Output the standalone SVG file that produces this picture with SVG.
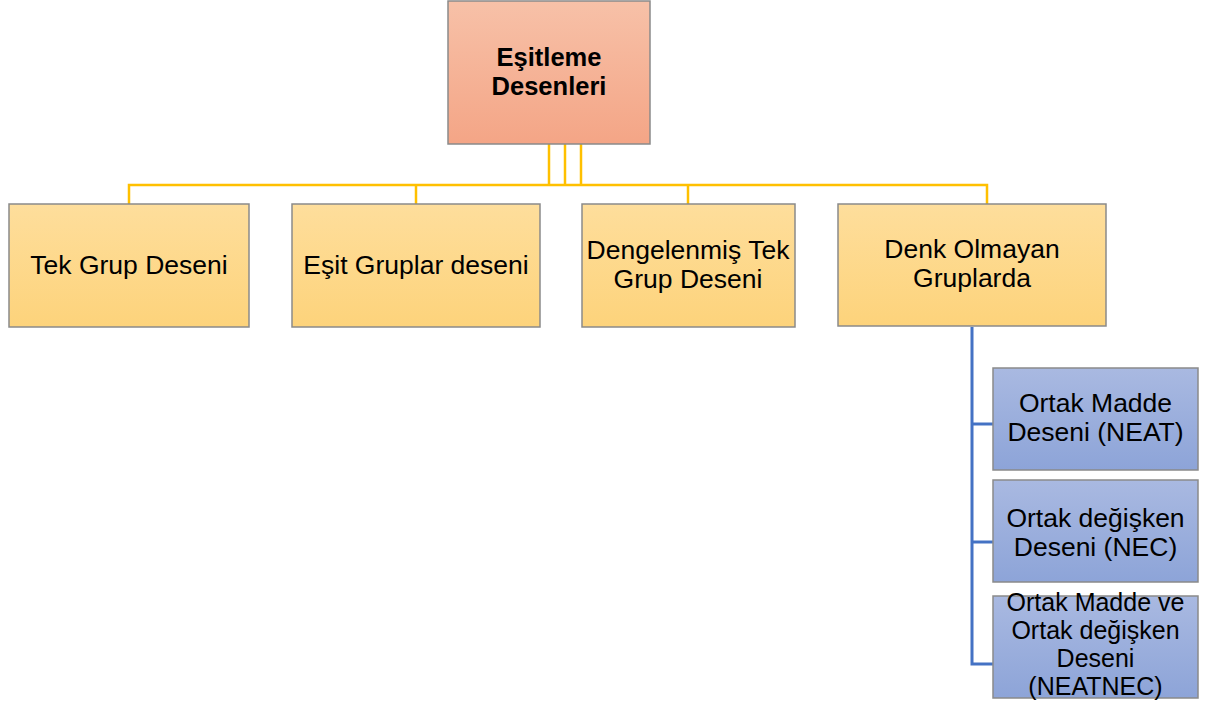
<svg xmlns="http://www.w3.org/2000/svg" width="1206" height="707" viewBox="0 0 1206 707">
<style>
  text { font-family: "Liberation Sans", Arial, sans-serif; font-size: 26.5px; fill: #000; text-anchor: middle; }
  .bold { font-weight: bold; font-size: 25.5px; }
  .tight { font-size: 25px; }
  .box { stroke: #8a8a8a; stroke-width: 1.5; }
  .yl { stroke: #FFC000; stroke-width: 2.5; fill: none; }
  .bl { stroke: #4472C4; stroke-width: 3; fill: none; }
</style>
<defs>
  <linearGradient id="gRoot" x1="0" y1="0" x2="0" y2="1">
    <stop offset="0" stop-color="#F7C1A8"/>
    <stop offset="1" stop-color="#F4A586"/>
  </linearGradient>
  <linearGradient id="gYel" x1="0" y1="0" x2="0" y2="1">
    <stop offset="0" stop-color="#FEDE9C"/>
    <stop offset="1" stop-color="#FDD37B"/>
  </linearGradient>
  <linearGradient id="gBlue" x1="0" y1="0" x2="0" y2="1">
    <stop offset="0" stop-color="#A9B9E1"/>
    <stop offset="1" stop-color="#8DA4D8"/>
  </linearGradient>
</defs>
<g id="connectors">
  <line class="yl" x1="549" y1="144" x2="549" y2="185"/>
  <line class="yl" x1="565" y1="144" x2="565" y2="185"/>
  <line class="yl" x1="581" y1="144" x2="581" y2="185"/>
  <polyline class="yl" points="129,204 129,185 987,185 987,204"/>
  <line class="yl" x1="416" y1="185" x2="416" y2="204"/>
  <line class="yl" x1="688" y1="185" x2="688" y2="204"/>
  <polyline class="bl" points="972,327 972,664 993,664"/>
  <line class="bl" x1="972" y1="424" x2="993" y2="424"/>
  <line class="bl" x1="972" y1="542" x2="993" y2="542"/>
</g>
<g id="root">
  <rect class="box" x="448" y="1" width="202" height="143" fill="url(#gRoot)"/>
  <text class="bold" x="549" y="66">Eşitleme</text>
  <text class="bold" x="549" y="95">Desenleri</text>
</g>
<g id="n1">
  <rect class="box" x="9" y="204" width="240" height="123" fill="url(#gYel)"/>
  <text x="129" y="274">Tek Grup Deseni</text>
</g>
<g id="n2">
  <rect class="box" x="292" y="204" width="248" height="123" fill="url(#gYel)"/>
  <text x="416" y="274">Eşit Gruplar deseni</text>
</g>
<g id="n3">
  <rect class="box" x="582" y="204" width="213" height="123" fill="url(#gYel)"/>
  <text x="688" y="259">Dengelenmiş Tek</text>
  <text x="688" y="288">Grup Deseni</text>
</g>
<g id="n4">
  <rect class="box" x="838" y="204" width="268" height="122" fill="url(#gYel)"/>
  <text x="972" y="258">Denk Olmayan</text>
  <text x="972" y="287">Gruplarda</text>
</g>
<g id="b1">
  <rect class="box" x="993" y="368" width="205" height="102" fill="url(#gBlue)"/>
  <text x="1095.5" y="412">Ortak Madde</text>
  <text x="1095.5" y="441">Deseni (NEAT)</text>
</g>
<g id="b2">
  <rect class="box" x="993" y="480" width="205" height="102" fill="url(#gBlue)"/>
  <text x="1095.5" y="527">Ortak değişken</text>
  <text x="1095.5" y="556">Deseni (NEC)</text>
</g>
<g id="b3">
  <rect class="box" x="993" y="596" width="205" height="102" fill="url(#gBlue)"/>
  <text class="tight" x="1095.5" y="611">Ortak Madde ve</text>
  <text class="tight" x="1095.5" y="639">Ortak değişken</text>
  <text class="tight" x="1095.5" y="667">Deseni</text>
  <text class="tight" x="1095.5" y="695">(NEATNEC)</text>
</g>
</svg>
